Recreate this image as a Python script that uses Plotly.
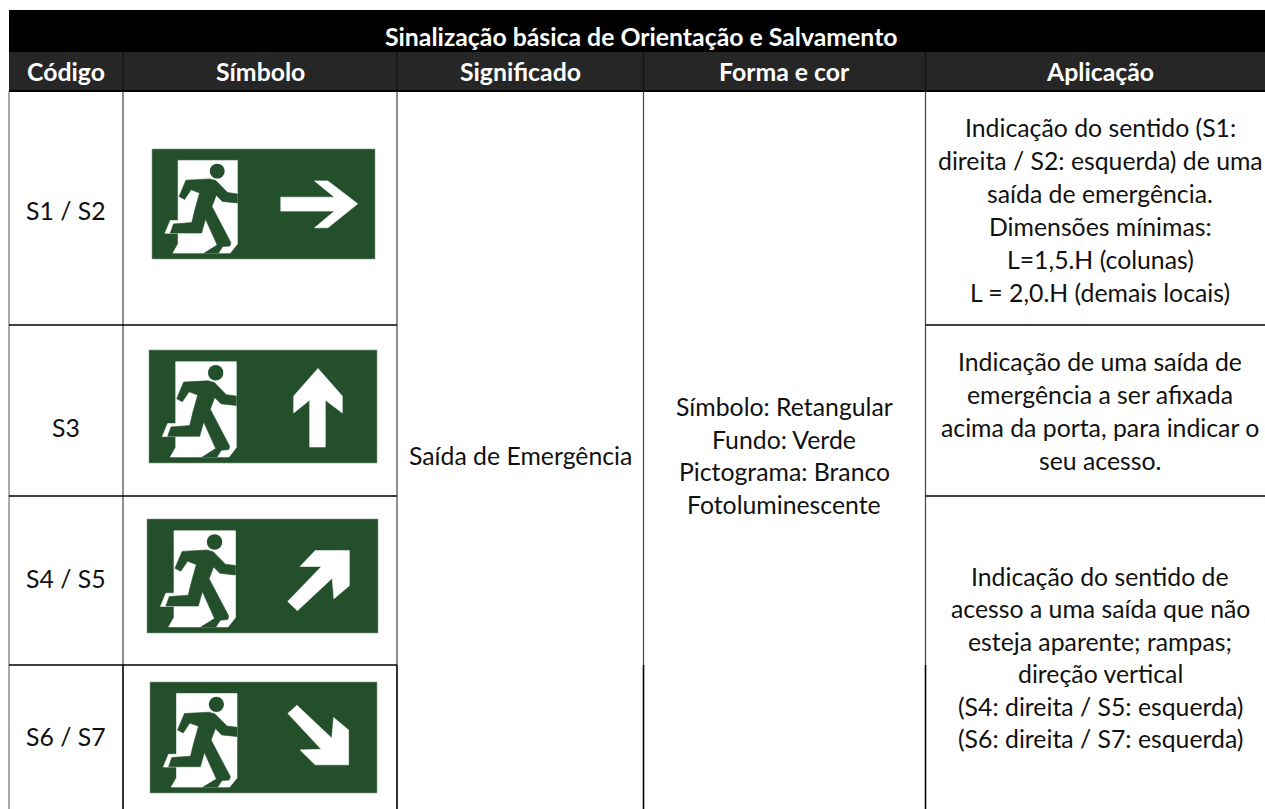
import plotly.graph_objects as go

# ---------- table content ----------
title = "Sinalização básica de Orientação e Salvamento"
headers = ["Código", "Símbolo", "Significado", "Forma e cor", "Aplicação"]
codes = ["S1 / S2", "S3", "S4 / S5", "S6 / S7"]
meaning = "Saída de Emergência"
form_lines = ["Símbolo: Retangular", "Fundo: Verde", "Pictograma: Branco", "Fotoluminescente"]
app_s1 = ["Indicação do sentido (S1:", "direita / S2: esquerda) de uma", "saída de emergência.",
          "Dimensões mínimas:", "L=1,5.H (colunas)", "L = 2,0.H (demais locais)"]
app_s3 = ["Indicação de uma saída de", "emergência a ser afixada",
          "acima da porta, para indicar o", "seu acesso."]
app_s4 = ["Indicação do sentido de", "acesso a uma saída que não", "esteja aparente; rampas;",
          "direção vertical", "(S4: direita / S5: esquerda)", "(S6: direita / S7: esquerda)"]

# ---------- layout geometry (page pixels) ----------
W, H = 1265, 809
LEFT, TOP = 9, 10
COLS = [9, 123, 397, 643.5, 925.5, 1265]
TITLE_B, HEAD_B = 52, 91
ROW_L = [325, 496, 665]
GREEN = "#234f2b"
FONT = "Lato"
SZ = 24.8

sign_boxes = [(152, 149, 375, 259), (149, 350, 377, 463), (147, 519, 378, 633), (150, 682, 377, 793)]

# Pictogram outlines in normalised sign coordinates, from a 684x338 master
def nm(pts):
    return [((x - 28) / 684, (y - 30) / 338) for x, y in pts]

door = nm([(108, 65), (290, 65), (290, 322), (268, 350), (92, 350), (108, 322), (108, 289),
           (68, 289), (84, 250), (108, 250)])
runner = nm([(111, 176), (132, 126), (205, 122), (224, 127), (260, 164), (290, 168), (290, 196),
             (244, 191), (225, 172), (212, 207), (270, 318), (267, 328), (245, 330), (232, 350),
             (188, 350), (228, 325), (192, 245), (180, 288), (84, 288), (94, 260), (150, 256),
             (160, 215), (174, 165), (148, 155), (128, 185)])
head_c = ((228 - 28) / 684, (98 - 30) / 338, 23 / 684, 23 / 338)

def nbox(pts, b):
    return [((x - b[0]) / (b[2] - b[0]), (y - b[1]) / (b[3] - b[1])) for x, y in pts]

arrows = [
    nbox([(843, 592), (1005, 592), (945, 543), (985, 543), (1075, 612), (985, 684), (945, 684),
          (1005, 634), (843, 634)], (455, 447, 1127, 778)),
    nbox([(510, 320), (510, 180), (462, 218), (462, 168), (535, 85), (608, 168), (608, 218),
          (557, 180), (557, 320)], (28, 30, 712, 368)),
    nbox([(503, 305), (604, 200), (540, 200), (585, 152), (687, 152), (687, 258), (641, 297),
          (636, 235), (532, 333)], (82, 57, 773, 400)),
    nbox([(503, 640), (530, 615), (635, 715), (640, 652), (685, 690), (685, 795), (585, 795),
          (540, 750), (603, 748)], (90, 545, 770, 880)),
]

shapes = []

def rect(x0, y0, x1, y1, color):
    shapes.append(dict(type="rect", x0=x0, y0=y0, x1=x1, y1=y1, fillcolor=color, line_width=0, layer="above"))

def line(x0, y0, x1, y1, color, w):
    shapes.append(dict(type="line", x0=x0, y0=y0, x1=x1, y1=y1, line=dict(color=color, width=w), layer="above"))

def poly(pts, box, color):
    x0, y0, x1, y1 = box
    mapped = [(x0 + u * (x1 - x0), y0 + v * (y1 - y0)) for u, v in pts]
    path = "M" + " L".join(f"{x:.1f},{y:.1f}" for x, y in mapped) + " Z"
    shapes.append(dict(type="path", path=path, fillcolor=color,
                       line=dict(color=color, width=0.6), layer="above"))

# header bands
rect(LEFT, TOP, W, TITLE_B, "#000000")
rect(LEFT, TITLE_B, W, HEAD_B, "#262626")
for x in COLS[1:5]:
    line(x, TITLE_B, x, HEAD_B, "#111111", 1.2)

# grid
line(LEFT, HEAD_B, W, HEAD_B, "#000000", 2)
line(LEFT, HEAD_B, LEFT, H, "#555555", 1)
for x in COLS[1:5]:
    line(x, HEAD_B, x, ROW_L[2], "#444444", 1.2)
    line(x, ROW_L[2], x, H, "#000000", 1.6)
line(LEFT, ROW_L[0], COLS[2], ROW_L[0], "#000000", 1.6)
line(COLS[4], ROW_L[0], W, ROW_L[0], "#000000", 1.6)
line(LEFT, ROW_L[1], COLS[2], ROW_L[1], "#000000", 1.6)
line(COLS[4], ROW_L[1], W, ROW_L[1], "#000000", 1.6)
line(LEFT, ROW_L[2], COLS[2], ROW_L[2], "#000000", 1.6)

# signs
for box, arrow in zip(sign_boxes, arrows):
    x0, y0, x1, y1 = box
    shapes.append(dict(type="rect", x0=x0, y0=y0, x1=x1, y1=y1, fillcolor=GREEN,
                       line=dict(color="#7f9a84", width=0.6), layer="above"))
    poly(door, box, "#ffffff")
    poly(runner, box, GREEN)
    cx, cy, rx, ry = head_c
    bw, bh = x1 - x0, y1 - y0
    shapes.append(dict(type="circle", x0=x0 + (cx - rx) * bw, x1=x0 + (cx + rx) * bw,
                       y0=y0 + (cy - ry) * bh, y1=y0 + (cy + ry) * bh,
                       fillcolor=GREEN, line_width=0, layer="above"))
    poly(arrow, box, "#ffffff")

annots = []

def text(s, x, y, size=SZ, color="#111111", bold=False):
    annots.append(dict(text=f"<b>{s}</b>" if bold else s, x=x, y=y - 1, xref="x", yref="y",
                       showarrow=False, xanchor="center", yanchor="middle",
                       font=dict(family=FONT, size=size, color=color)))

text(title, 641, 37, color="#ffffff", bold=True)
for h, x in zip(headers, [66, 260, 520, 784, 1100]):
    text(h, x, 72, color="#ffffff", bold=True)
for c, y in zip(codes, [211, 428, 579, 737]):
    text(c, 66, y)
text(meaning, 520, 456)
for s, y in zip(form_lines, [407, 440, 472, 505]):
    text(s, 784, y)
for s, y in zip(app_s1, [128, 161, 194, 227, 260, 293]):
    text(s, 1100, y)
for s, y in zip(app_s3, [362, 395, 428, 461]):
    text(s, 1100, y)
for s, y in zip(app_s4, [577, 609, 642, 674, 707, 739]):
    text(s, 1100, y)

fig = go.Figure()
fig.update_layout(
    width=W, height=H, margin=dict(l=0, r=0, t=0, b=0), showlegend=False,
    paper_bgcolor="#ffffff", plot_bgcolor="#ffffff",
    xaxis=dict(range=[0, W], visible=False, fixedrange=True),
    yaxis=dict(range=[H, 0], visible=False, fixedrange=True),
    shapes=shapes, annotations=annots,
)
fig.write_html("out.html", config=dict(displayModeBar=False),
               post_script="document.body.style.margin='0';document.documentElement.style.overflow='hidden';")
